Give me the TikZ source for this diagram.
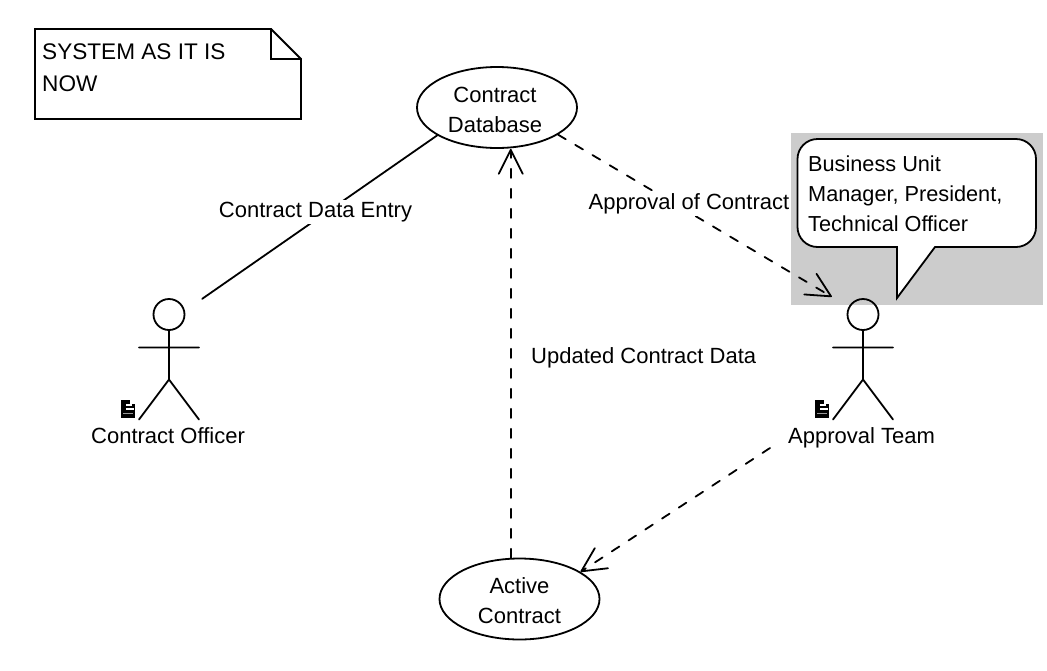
\documentclass[tikz,border=0pt]{standalone}
\usepackage{fontspec}
\setmainfont{Liberation Sans}
\usetikzlibrary{arrows.meta,shapes.geometric}
\tikzset{
  x=1pt,y=-1pt,
  lw/.style={line width=1.8pt,line cap=round,line join=miter},
  txt/.style={font=\fontsize{22}{30}\selectfont,inner sep=0pt,align=center,text=black},
  lefttxt/.style={txt,align=left},
  uc/.style={ellipse,draw,lw,fill=white,minimum width=160pt,minimum height=81pt,inner sep=0pt,txt},
  lbl/.style={txt,fill=white,inner xsep=1pt,inner ysep=2pt},
  assoc/.style={lw},
  dep/.style={lw,dash pattern=on 9pt off 11pt,-{Straight Barb[length=24pt,width=24pt,line width=1.8pt,round]}},
  actorbox/.style={inner sep=0pt,minimum height=122pt},
  pics/stick/.style={code={
    \draw[lw] (0,-45) circle[radius=15.5pt];
    \draw[lw] (0,-29.5) -- (0,20) (-30,-12) -- (30,-12) (-30,60) -- (0,20) -- (30,60);
    \fill[black] (-48,40) rectangle (-34,58);
    \fill[white] (-39,40) rectangle (-34,44.5);
    \fill[white] (-43,44.5) rectangle (-37,46);
    \fill[white] (-43,48.5) rectangle (-35,50);
    \fill[white!60!black] (-46,53) rectangle (-36,54.5);
  }}
}
\begin{document}
\begin{tikzpicture}
\useasboundingbox (0,0) rectangle (1047,670);
% note
\draw[lw,fill=white] (35,29) -- (271,29) -- (301,59) -- (301,119) -- (35,119) -- cycle;
\draw[lw] (271,29) -- (271,59) -- (301,59);
\node[lefttxt,anchor=west,font=\fontsize{22.6}{32.5}\selectfont] (note) at (42,67.5) {SYSTEM AS IT IS\\NOW};
% grey highlight and callout
\fill[black!20] (791,133) rectangle (1043,305);
\draw[lw,fill=white] (897,298) -- (897,247) [rounded corners=20pt] -- (797.5,247) -- (797.5,139) -- (1036,139) -- (1036,247) [sharp corners] -- (935,247) -- cycle;
\node[lefttxt,anchor=west,font=\fontsize{21.7}{30}\selectfont] (callout) at (808,194) {Business Unit\\Manager, President,\\Technical Officer};
% use cases
\node[uc] (db) at (497,107.5) {\rule{0pt}{20pt}\hspace*{-4pt}Contract\\\hspace*{-4pt}Database};
\node[uc] (active) at (519.5,599) {\rule{0pt}{20pt}Active\\Contract};
% actors
\node[actorbox,minimum width=66pt] (officer) at (169,360) {};
\pic at (169,359.5) {stick};
\node[txt] (officerlabel) at (168,435.5) {Contract Officer};
\node[actorbox,minimum width=61pt] (team) at (862.5,358) {};
\pic at (863,359.5) {stick};
\node[txt] (teamlabel) at (861.5,438) {Approval Team};
\coordinate (teamout) at (770,448);
% connectors
\draw[assoc] (officer.north east) -- (db.205.8);
\draw[dep] (db.-24.2) -- (team.north west);
\draw[dep] (active.102) -- (db.south -| active.102);
\draw[dep] (teamout) -- (active.24.6);
% connector labels
\node[lbl] (entry) at (315.5,212) {Contract Data Entry};
\node[lbl] (approval) at (689,204) {Approval of Contract};
\node[lbl,anchor=west,inner xsep=0pt] (updbox) at (511.3,358) {\hspace{19.7pt}Updated Contract Data};
\end{tikzpicture}
\end{document}
